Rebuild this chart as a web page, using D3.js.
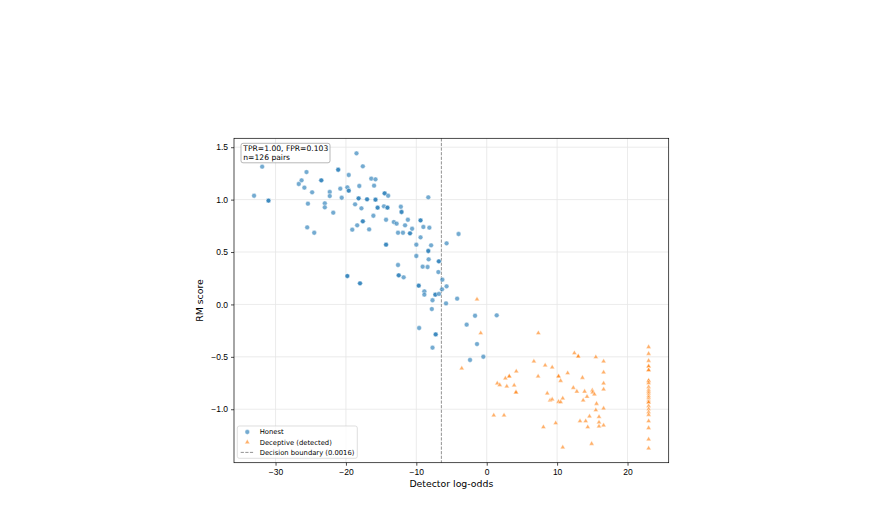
<!DOCTYPE html>
<html lang="en">
<head>
  <meta charset="UTF-8">
  <title>RM score vs detector log-odds</title>
  <style>
    body { margin: 0; background: #fff; }
    svg { display: block; font-family: "DejaVu Sans", sans-serif; }
    .grid line { stroke: #e6e6e6; stroke-width: 0.8px; }
    .axis path, .axis line { stroke: #000; stroke-width: 0.7px; }
    .axis text { font-size: 8.5px; fill: #000; }
    .honest { fill: #1f77b4; fill-opacity: 0.62; stroke: #fff; stroke-opacity: 0.7; stroke-width: 0.6px; }
    .deceptive { fill: #ff7f0e; fill-opacity: 0.62; stroke: #fff; stroke-opacity: 0.7; stroke-width: 0.6px; }
  </style>
</head>
<body>
  <script src="https://d3js.org/d3.v7.min.js"></script>
  <script>
    // [detector log-odds, RM score]; repeats are overlapping points
    const honest = [
      [-33.05, 1.037], [-31.9, 1.314], [-31.0, 0.99], [-31.0, 0.99], [-25.6, 1.263], [-26.3, 1.184],
      [-26.7, 1.149], [-25.9, 1.114], [-24.8, 1.07], [-25.4, 0.961], [-25.5, 0.735], [-24.5, 0.684],
      [-23.5, 1.184], [-23.5, 1.184], [-22.3, 1.073], [-22.3, 1.034], [-23.0, 0.965], [-23.0, 0.926],
      [-21.8, 0.875], [-21.1, 1.285], [-21.1, 1.285], [-20.8, 1.104], [-20.6, 1.018], [-19.8, 1.117],
      [-19.6, 1.235], [-19.6, 1.085], [-19.6, 1.085], [-18.5, 1.442], [-17.6, 1.318], [-18.1, 1.13],
      [-18.2, 1.012], [-18.2, 1.012], [-18.7, 0.955], [-17.8, 0.917], [-18.4, 0.755], [-19.1, 0.713],
      [-17.6, 0.793], [-17.6, 0.793], [-16.7, 0.716], [-17.0, 1.003], [-17.0, 1.003], [-16.4, 1.2],
      [-15.8, 1.194], [-16.0, 1.133], [-15.8, 0.999], [-15.8, 0.999], [-15.5, 0.923], [-15.5, 0.923],
      [-16.1, 0.846], [-14.5, 1.06], [-14.5, 1.06], [-14.0, 1.037], [-14.6, 0.936], [-14.1, 0.923],
      [-14.1, 0.923], [-14.3, 0.808], [-13.2, 0.786], [-12.8, 0.77], [-12.2, 0.932], [-12.1, 0.882],
      [-12.1, 0.882], [-12.6, 0.684], [-11.9, 0.684], [-11.2, 0.808], [-11.6, 0.755], [-10.6, 0.722],
      [-10.9, 0.678], [-10.9, 0.678], [-9.4, 0.802], [-9.4, 0.802], [-9.0, 0.739], [-8.15, 0.732],
      [-8.3, 1.022], [-9.4, 0.64], [-10.0, 0.57], [-14.3, 0.57], [-14.3, 0.57], [-7.9, 0.564],
      [-8.3, 0.51], [-8.3, 0.51], [-10.0, 0.462], [-8.25, 0.43], [-6.8, 0.411], [-6.8, 0.411],
      [-5.7, 0.583], [-4.0, 0.672], [-9.1, 0.36], [-8.4, 0.357], [-12.6, 0.376], [-12.5, 0.278],
      [-12.5, 0.278], [-11.8, 0.259], [-19.8, 0.271], [-19.8, 0.271], [-18.0, 0.201], [-18.0, 0.201],
      [-6.87, 0.309], [-6.3, 0.236], [-5.7, 0.173], [-9.66, 0.179], [-9.66, 0.179], [-8.86, 0.125],
      [-8.86, 0.093], [-7.3, 0.093], [-7.3, 0.093], [-6.78, 0.1], [-6.35, 0.144], [-7.7, 0.04],
      [-4.2, 0.055], [-5.78, 0.01], [-7.8, -0.044], [-9.6, -0.225], [-7.25, -0.286], [-7.25, -0.286],
      [-7.7, -0.413], [-1.66, -0.108], [1.42, -0.104], [-2.85, -0.193], [-1.38, -0.378], [-2.37, -0.53],
      [-0.48, -0.499]
    ];

    const deceptive = [
      [-1.38, 0.049], [-0.85, -0.273], [-3.55, -0.61], [7.33, -0.273], [12.45, -0.464], [13.0, -0.496],
      [13.0, -0.496], [15.5, -0.502], [16.6, -0.543], [6.7, -0.543], [8.3, -0.581], [9.3, -0.6],
      [11.5, -0.655], [10.2, -0.686], [10.2, -0.686], [10.5, -0.728], [7.3, -0.686], [4.2, -0.638],
      [3.2, -0.686], [3.2, -0.686], [2.65, -0.705], [1.5, -0.753], [1.85, -0.769], [2.85, -0.782],
      [3.9, -0.772], [4.16, -0.839], [4.16, -0.839], [13.6, -0.699], [16.6, -0.648], [16.6, -0.753],
      [16.6, -0.81], [12.3, -0.795], [12.8, -0.83], [13.9, -0.83], [15.0, -0.82], [15.05, -0.839],
      [15.3, -0.858], [14.25, -0.88], [13.7, -0.915], [15.6, -0.947], [16.6, -0.992], [15.5, -1.008],
      [8.6, -0.849], [9.0, -0.915], [9.3, -0.906], [10.2, -0.928], [10.5, -0.931], [10.8, -0.896],
      [1.0, -1.058], [2.46, -1.058], [8.05, -1.17], [9.8, -1.132], [10.8, -1.364], [14.9, -1.329],
      [13.25, -1.113], [14.06, -1.113], [14.6, -1.068], [14.35, -1.17], [15.95, -1.072], [15.95, -1.125],
      [15.95, -1.163], [16.6, -1.154],
      [23.0, -0.406], [23.0, -0.47], [23.0, -0.537], [23.0, -0.591], [23.0, -0.591], [23.0, -0.626],
      [23.0, -0.626], [23.0, -0.728], [23.0, -0.728], [23.0, -0.75], [23.0, -0.788], [23.0, -0.814],
      [23.0, -0.83], [23.0, -0.849], [23.0, -0.871], [23.0, -0.89], [23.0, -0.915], [23.0, -0.934],
      [23.0, -0.934], [23.0, -0.969], [23.0, -0.998], [23.0, -1.027], [23.0, -1.052], [23.0, -1.113],
      [23.0, -1.179], [23.0, -1.287], [23.0, -1.373]
    ];

    const boundary = -6.44;   // log-odds of 0.0016
    const xTicks = [-30, -20, -10, 0, 10, 20];
    const yTicks = [-1.0, -0.5, 0.0, 0.5, 1.0, 1.5];
    const statsLines = ["TPR=1.00, FPR=0.103", "n=126 pairs"];
    const legendItems = [
      {label: "Honest", kind: "honest"},
      {label: "Deceptive (detected)", kind: "deceptive"},
      {label: "Decision boundary (0.0016)", kind: "line"}
    ];

    const width = 887, height = 511;
    const margin = {top: 138.3, right: 218.3, bottom: 48.3, left: 234};
    const iw = width - margin.left - margin.right;
    const ih = height - margin.top - margin.bottom;

    const x = d3.scaleLinear().domain([-35.9, 25.85]).range([0, iw]);
    const y = d3.scaleLinear().domain([-1.51, 1.585]).range([ih, 0]);

    const svg = d3.select("body").append("svg").attr("width", width).attr("height", height);
    const g = svg.append("g").attr("transform", `translate(${margin.left},${margin.top})`);

    // grid
    g.append("g").attr("class", "grid")
      .selectAll("line").data(xTicks).join("line")
      .attr("x1", d => x(d)).attr("x2", d => x(d)).attr("y1", 0).attr("y2", ih);
    g.append("g").attr("class", "grid")
      .selectAll("line").data(yTicks).join("line")
      .attr("y1", d => y(d)).attr("y2", d => y(d)).attr("x1", 0).attr("x2", iw);

    // decision boundary
    g.append("line")
      .attr("x1", x(boundary)).attr("x2", x(boundary)).attr("y1", 0).attr("y2", ih)
      .attr("stroke", "#7f7f7f").attr("stroke-width", 0.85).attr("stroke-dasharray", "3.2,1.4");

    g.append("g").selectAll("circle").data(honest).join("circle")
      .attr("class", "honest")
      .attr("cx", d => x(d[0])).attr("cy", d => y(d[1])).attr("r", 2.4);

    const tri = d3.symbol().type(d3.symbolTriangle).size(11);
    g.append("g").selectAll("path").data(deceptive).join("path")
      .attr("class", "deceptive")
      .attr("d", tri)
      .attr("transform", d => `translate(${x(d[0])},${y(d[1])})`);

    // axes
    const fmtX = d => d3.format("d")(d).replace("-", "\u2212");
    const fmtY = d => d3.format(".1f")(d).replace("-", "\u2212");
    g.append("g").attr("class", "axis").attr("transform", `translate(0,${ih})`)
      .call(d3.axisBottom(x).tickValues(xTicks).tickFormat(fmtX).tickSize(3).tickPadding(3))
      .call(a => a.select(".domain").remove());
    g.append("g").attr("class", "axis")
      .call(d3.axisLeft(y).tickValues(yTicks).tickFormat(fmtY).tickSize(3).tickPadding(3))
      .call(a => a.select(".domain").remove());

    g.append("rect").attr("width", iw).attr("height", ih)
      .attr("fill", "none").attr("stroke", "#000").attr("stroke-width", 0.7);

    svg.append("text")
      .attr("x", margin.left + iw / 2).attr("y", 486.5)
      .attr("text-anchor", "middle").attr("font-size", 9.35)
      .text("Detector log-odds");
    svg.append("text")
      .attr("transform", `translate(203,${margin.top + ih / 2}) rotate(-90)`)
      .attr("text-anchor", "middle").attr("font-size", 9.35)
      .text("RM score");

    // stats box
    const sb = g.append("g").attr("transform", "translate(7,5)");
    sb.append("rect").attr("width", 89).attr("height", 19.5).attr("rx", 2)
      .attr("fill", "#fff").attr("fill-opacity", 0.8).attr("stroke", "#999").attr("stroke-width", 0.7);
    sb.selectAll("text").data(statsLines).join("text")
      .attr("x", 2.3).attr("y", (d, i) => 7.7 + i * 9)
      .attr("font-size", 7.6)
      .text(d => d);

    // legend
    const lg = g.append("g").attr("transform", `translate(3.3,${ih - 36.7})`);
    lg.append("rect").attr("width", 120).attr("height", 32.3).attr("rx", 2)
      .attr("fill", "#fff").attr("fill-opacity", 0.8).attr("stroke", "#d0d0d0").attr("stroke-width", 0.7);
    const row = lg.selectAll("g").data(legendItems).join("g")
      .attr("transform", (d, i) => `translate(0,${6 + i * 10.2})`);
    row.filter(d => d.kind === "honest").append("circle")
      .attr("class", "honest").attr("cx", 10).attr("r", 2.4);
    row.filter(d => d.kind === "deceptive").append("path")
      .attr("class", "deceptive").attr("d", tri).attr("transform", "translate(10,0)");
    row.filter(d => d.kind === "line").append("line")
      .attr("x1", 3.4).attr("x2", 16).attr("stroke", "#7f7f7f").attr("stroke-width", 0.85)
      .attr("stroke-dasharray", "3.2,1.4");
    row.append("text").attr("x", 22.4).attr("dy", "0.35em").attr("font-size", 6.8)
      .text(d => d.label);
  </script>
</body>
</html>
